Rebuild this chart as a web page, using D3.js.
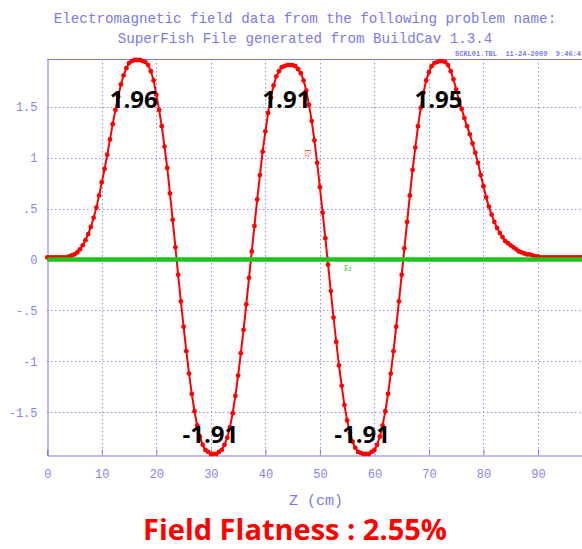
<!DOCTYPE html>
<html>
<head>
<meta charset="utf-8">
<script src="https://cdn.jsdelivr.net/npm/d3@7"></script>
<style>
  body { margin: 0; background: #fff; }
  svg { display: block; }
</style>
</head>
<body>
<div id="chart"></div>
<script>
// Ez on axis, every 0.5 cm from z = 0 to 100 cm
var zStep = 0.5;
var ezValues = [
  0.02, 0.02, 0.02, 0.02, 0.02, 0.02, 0.02, 0.02, 0.03, 0.04,
  0.05, 0.07, 0.10, 0.14, 0.19, 0.25, 0.32, 0.41, 0.51, 0.63,
  0.76, 0.89, 1.03, 1.18, 1.33, 1.47, 1.60, 1.72, 1.81, 1.88,
  1.93, 1.95, 1.96, 1.96, 1.96, 1.95, 1.94, 1.91, 1.85, 1.76,
  1.62, 1.47, 1.31, 1.11, 0.90, 0.65, 0.39, 0.12, -0.15, -0.41,
  -0.66, -0.90, -1.12, -1.32, -1.49, -1.63, -1.74, -1.82, -1.87, -1.89,
  -1.91, -1.91, -1.91, -1.89, -1.87, -1.82, -1.75, -1.65, -1.51, -1.34,
  -1.14, -0.92, -0.69, -0.44, -0.18, 0.08, 0.33, 0.59, 0.83, 1.06,
  1.26, 1.44, 1.59, 1.71, 1.80, 1.85, 1.89, 1.90, 1.91, 1.91,
  1.91, 1.90, 1.87, 1.83, 1.76, 1.66, 1.52, 1.36, 1.17, 0.95,
  0.71, 0.46, 0.21, -0.05, -0.31, -0.57, -0.81, -1.04, -1.24, -1.43,
  -1.58, -1.70, -1.79, -1.85, -1.89, -1.90, -1.91, -1.91, -1.91, -1.89,
  -1.87, -1.82, -1.74, -1.63, -1.49, -1.32, -1.12, -0.90, -0.66, -0.41,
  -0.15, 0.11, 0.37, 0.63, 0.88, 1.10, 1.31, 1.49, 1.64, 1.76,
  1.84, 1.90, 1.93, 1.94, 1.95, 1.95, 1.94, 1.91, 1.85, 1.77,
  1.67, 1.57, 1.48, 1.39, 1.31, 1.23, 1.14, 1.05, 0.95, 0.83,
  0.72, 0.61, 0.52, 0.44, 0.37, 0.31, 0.26, 0.22, 0.18, 0.16,
  0.14, 0.12, 0.10, 0.08, 0.07, 0.06, 0.05, 0.05, 0.04, 0.03,
  0.03, 0.02, 0.02, 0.02, 0.02, 0.02, 0.02, 0.02, 0.02, 0.02,
  0.02, 0.02, 0.02, 0.02, 0.02, 0.02, 0.02, 0.02, 0.02, 0.02,
  0.02
];
// Er along the axis (flat)
var erZ = [0, 100];
var erValues = [0, 0];

var xTicks = [0, 10, 20, 30, 40, 50, 60, 70, 80, 90];
var yTicks = [-1.5, -1, -0.5, 0, 0.5, 1, 1.5];
var yTickLabels = ["-1.5", "-1", "-.5", "0", ".5", "1", "1.5"];

// peak values written on the plot
var peakZ = [16.4, 30.45, 44.4, 58.3, 72.3];
var peakLabels = ["1.96", "-1.91", "1.91", "-1.91", "1.95"];

var titleLines = [
  "Electromagnetic field data from the following problem name:",
  "SuperFish File generated from BuildCav 1.3.4"
];
var stampText = "SCKL01.TBL  11-24-2009  9:46:4";
var xLabel = "Z (cm)";
var flatnessText = "Field Flatness : 2.55%";

var width = 582, height = 549;
var plot = {left: 47, top: 59, right: 582, bottom: 455};
var blue = "#7b7be8";

var svg = d3.select("#chart").append("svg")
  .attr("width", width)
  .attr("height", height);

svg.append("rect").attr("width", width).attr("height", height).attr("fill", "#fff");

var x = d3.scaleLinear().domain([0, 100]).range([47.3, 592.5]);
var y = d3.scaleLinear().domain([-1.92, 1.97]).range([plot.bottom, plot.top]);

// titles
svg.selectAll(".title")
  .data(titleLines)
  .enter().append("text")
  .attr("class", "title")
  .attr("x", 305)
  .attr("y", function(d, i) { return 23 + i * 20; })
  .attr("text-anchor", "middle")
  .attr("font-family", "Liberation Mono, monospace")
  .attr("font-size", 14.2)
  .attr("fill", blue)
  .text(function(d) { return d; });

svg.append("text")
  .attr("x", 455)
  .attr("y", 56)
  .attr("font-family", "Liberation Mono, monospace")
  .attr("font-size", 7)
  .attr("font-weight", "bold")
  .attr("fill", blue)
  .attr("xml:space", "preserve")
  .text(stampText);

// dotted grid
var grid = svg.append("g")
  .attr("stroke", "#8f8ff0")
  .attr("stroke-width", 1)
  .attr("stroke-dasharray", "1.5,2.5");

grid.selectAll(".hgrid")
  .data(yTicks.filter(function(d) { return d != 0; }))
  .enter().append("line")
  .attr("x1", plot.left).attr("x2", plot.right)
  .attr("y1", function(d) { return Math.round(y(d)) + 0.5; })
  .attr("y2", function(d) { return Math.round(y(d)) + 0.5; });

grid.selectAll(".vgrid")
  .data(xTicks.filter(function(d) { return d != 0; }))
  .enter().append("line")
  .attr("y1", plot.top).attr("y2", plot.bottom)
  .attr("x1", function(d) { return Math.round(x(d)) + 0.5; })
  .attr("x2", function(d) { return Math.round(x(d)) + 0.5; });

// axes
var xAxis = svg.append("g")
  .attr("transform", "translate(0," + (plot.bottom + 0.5) + ")")
  .call(d3.axisBottom(x).tickValues(xTicks).tickSize(-6).tickPadding(14).tickFormat(d3.format("d")));

var yAxis = svg.append("g")
  .attr("transform", "translate(" + (plot.left + 0.5) + ",0)")
  .call(d3.axisLeft(y).tickValues(yTicks).tickSize(0).tickPadding(10)
    .tickFormat(function(d, i) { return yTickLabels[i]; }));

[xAxis, yAxis].forEach(function(a) {
  a.select(".domain").attr("stroke", blue);
  a.selectAll(".tick line").attr("stroke", blue);
  a.selectAll(".tick text")
    .attr("fill", "#8585ec")
    .attr("font-family", "Liberation Mono, monospace")
    .attr("font-size", 12);
});

// top frame line
svg.append("line")
  .attr("x1", plot.left).attr("x2", plot.right)
  .attr("y1", plot.top + 0.5).attr("y2", plot.top + 0.5)
  .attr("stroke", blue);

svg.append("text")
  .attr("x", 316)
  .attr("y", 505)
  .attr("text-anchor", "middle")
  .attr("font-family", "Liberation Mono, monospace")
  .attr("font-size", 15)
  .attr("fill", blue)
  .attr("xml:space", "preserve")
  .text(xLabel);

// Ez curve: line plus a dot at every point
var ezData = ezValues.map(function(v, i) { return {z: i * zStep, v: v}; });

var line = d3.line()
  .x(function(d) { return x(d.z); })
  .y(function(d) { return y(d.v); });

svg.append("path")
  .datum(ezData)
  .attr("fill", "none")
  .attr("stroke", "#ff0000")
  .attr("stroke-width", 2)
  .attr("d", line);

svg.selectAll(".ezdot")
  .data(ezData)
  .enter().append("circle")
  .attr("class", "ezdot")
  .attr("cx", function(d) { return x(d.z); })
  .attr("cy", function(d) { return y(d.v); })
  .attr("r", 2.4)
  .attr("fill", "#ff0000");

// Er line
var erData = erZ.map(function(z, i) { return {z: z, v: erValues[i]}; });
svg.append("path")
  .datum(erData)
  .attr("fill", "none")
  .attr("stroke", "#1ec31e")
  .attr("stroke-width", 4.5)
  .attr("d", line);

// curve names
svg.append("text")
  .attr("transform", "translate(305,149) rotate(90)")
  .attr("font-family", "Liberation Serif, serif")
  .attr("font-size", 8)
  .attr("fill", "#ff4040")
  .text("Ez");

svg.append("text")
  .attr("x", 344)
  .attr("y", 271)
  .attr("font-family", "Liberation Serif, serif")
  .attr("font-size", 8)
  .attr("fill", "#30c030")
  .text("Er");

// peak annotations
svg.selectAll(".peak")
  .data(peakLabels)
  .enter().append("text")
  .attr("class", "peak")
  .attr("x", function(d, i) { return x(peakZ[i]) - 3; })
  .attr("y", function(d) { return d.charAt(0) == "-" ? 443 : 108; })
  .attr("text-anchor", "middle")
  .attr("font-family", "Open Sans, sans-serif")
  .attr("font-weight", "bold")
  .attr("font-size", 24)
  .attr("fill", "#000")
  .text(function(d) { return d; });

svg.append("text")
  .attr("x", 295)
  .attr("y", 540)
  .attr("text-anchor", "middle")
  .attr("font-family", "Open Sans, sans-serif")
  .attr("font-weight", "bold")
  .attr("font-size", 29)
  .attr("fill", "#ff0000")
  .text(flatnessText);
</script>
</body>
</html>
